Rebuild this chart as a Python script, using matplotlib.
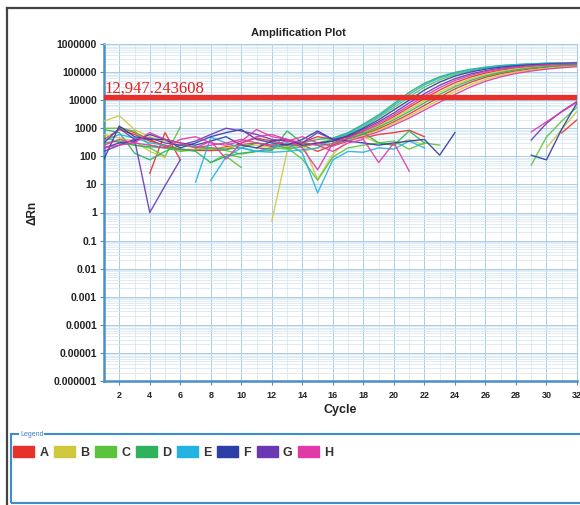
import matplotlib
matplotlib.use("Agg")
import matplotlib.pyplot as plt
from matplotlib.patches import Patch, Rectangle
from matplotlib.lines import Line2D
from matplotlib.ticker import FixedLocator, FixedFormatter, LogLocator, MultipleLocator
import numpy as np

n = np.nan

cycles = list(range(1, 33))
threshold = 12947.243608
threshold_label = "12,947.243608"

well_names = ["A", "B", "C", "D", "E", "F", "G", "H"]
well_colors = ["#e5322a", "#cfc83c", "#5cc43c", "#2eb35c", "#24b2e2", "#2b3fa6", "#6b37b3", "#e03aa8"]

y_tick_values = [1e-6, 1e-5, 1e-4, 1e-3, 1e-2, 1e-1, 1, 10, 100, 1000, 10000, 100000, 1000000]
y_tick_labels = ["0.000001", "0.00001", "0.0001", "0.001", "0.01", "0.1", "1", "10",
                 "100", "1000", "10000", "100000", "1000000"]
x_tick_values = list(range(2, 33, 2))

# ΔRn per cycle (1..32) for each well, nan = not plotted (negative / below zero)
a1 = [400, 900, 600, 350, 250, 180, 160, 170, 220, 260, 300, 220, 260, 230, 280,
      350, 500, 750, 1300, 2600, 5500, 11500, 23000, 42000, 66000, 92000, 117000, 139000, 157000, 172000, 183000, 192000]
a2 = [n, n, n, 25, 700, 75, n, n, n, n, 200, 180, 300, 250, 150,
      250, 400, 600, 950, 1700, 3200, 6500, 13000, 25000, 43000, 65000, 88000, 110000, 130000, 148000, 162000, 173000]
a3 = [n, 1100, 700, 400, 220, 170, 165, 160, 170, 300, 450, 350, 260, 320, 500,
      400, 500, 450, 600, 700, 850, 500, n, n, n, n, n, n, n, n, 680, 2000]

b1 = [1800, 2800, 900, 500, 350, 250, 200, 180, 200, 250, 250, 200, 230, 150, 200,
      300, 450, 700, 1200, 2300, 4600, 9500, 19000, 35000, 57000, 82000, 107000, 130000, 149000, 165000, 177000, 187000]
b2 = [n, n, n, n, n, n, n, n, n, n, n, 0.5, 150, 300, 15,
      120, 380, 550, 850, 1500, 2700, 5300, 10500, 20000, 35000, 55000, 77000, 99000, 119000, 137000, 152000, 164000]
b3 = [600, 450, 350, 150, 90, n, n, n, n, n, n, n, n, n, n,
      n, n, 500, 300, 250, 400, 250, n, n, n, n, n, n, n, 200, 900, 4000]

c1 = [1000, 1000, 800, 250, 200, 150, 170, 200, 160, 120, 150, 200, 180, 220, 300,
      400, 600, 1100, 2400, 5500, 13000, 29000, 53000, 82000, 110000, 137000, 158000, 175000, 188000, 198000, 205000, 210000]
c2 = [500, 300, 250, 200, 100, 1100, n, n, 100, 40, n, n, 200, 80, 14,
      95, 200, 250, 300, 350, 180, 300, 250, n, n, n, n, n, n, n, n, n]
c3 = [n, n, n, n, n, n, n, 60, 120, 90, n, n, n, n, n,
      n, n, n, n, n, n, n, n, n, n, n, n, n, 49, 490, 1800, 5700]

d1 = [900, 700, 130, 75, 150, 250, 220, 200, 180, 200, 300, 250, 200, 300, 400,
      450, 700, 1400, 3000, 7500, 19000, 40000, 68000, 98000, 125000, 150000, 170000, 185000, 197000, 206000, 213000, 218000]
d2 = [300, 350, 250, 220, 200, 180, 150, 60, 100, 130, 150, 160, 800, 300, 250,
      280, 420, 650, 1100, 2000, 3900, 8000, 16000, 30000, 50000, 73000, 97000, 120000, 140000, 157000, 170000, 181000]
d3 = [n, n, n, n, n, n, n, n, n, n, n, n, n, n, n,
      n, 600, 700, 300, 250, 800, 300, n, n, n, n, n, n, n, n, n, n]

e1 = [350, 600, 450, 300, 250, n, 12, 480, 300, 200, 150, 140, 150, 170, 200,
      420, 650, 1250, 2700, 6500, 16000, 35000, 62000, 92000, 120000, 146000, 167000, 183000, 196000, 206000, 214000, 220000]
e2 = [n, n, n, n, n, n, n, 14, 95, 200, 150, 200, 300, 130, 5,
      75, 150, 140, 200, 180, 350, 200, n, n, n, n, n, n, n, n, n, n]

f1 = [80, 1200, 500, 400, 400, 200, 300, 500, 700, 900, 400, 300, 250, 400, 800,
      400, 350, 300, 250, 300, 350, 400, 110, 700, n, n, n, n, 110, 75, 930, 8000]
f2 = [200, 300, 350, 600, 400, 300, 250, 350, 500, 250, 200, 350, 400, 250, 300,
      350, 550, 1000, 2000, 4500, 10000, 23000, 44000, 72000, 100000, 127000, 150000, 168000, 182000, 193000, 201000, 207000]

g1 = [300, 1000, 400, 1, 9, 75, n, n, n, n, n, n, n, n, n,
      n, n, n, n, n, n, n, n, n, n, n, n, n, 380, 1500, 4000, 9000]
g2 = [150, 250, 400, 450, 300, 250, 350, 600, 1000, 800, 600, 400, 350, 300, 700,
      400, 500, 900, 1700, 3500, 8000, 17000, 34000, 58000, 85000, 112000, 136000, 156000, 172000, 185000, 195000, 202000]

h1 = [250, 400, 300, 250, 200, 400, 500, 300, 250, 350, 900, 500, 400, 200, 33,
      300, 450, 800, 1500, 3000, 6500, 14000, 28000, 50000, 76000, 103000, 128000, 149000, 166000, 180000, 190000, 198000]
h2 = [n, n, n, n, n, n, 200, 350, 80, 300, 500, 600, 400, 300, 250,
      150, 300, 400, 60, 300, 30, n, n, n, n, n, n, n, 740, 1700, 3800, 8500]
h3 = [200, 250, 300, 700, 400, 300, 200, 250, 300, 400, 300, 250, 350, 500, 300,
      230, 350, 500, 750, 1300, 2300, 4400, 8500, 16000, 29000, 47000, 68000, 89000, 109000, 127000, 142000, 155000]

wells = {
    "A": [a1, a2, a3], "B": [b1, b2, b3], "C": [c1, c2, c3], "D": [d1, d2, d3],
    "E": [e1, e2], "F": [f1, f2], "G": [g1, g2], "H": [h1, h2, h3],
}

plt.rcParams["font.family"] = ["Liberation Sans", "DejaVu Sans"]

fig = plt.figure(figsize=(5.8, 5.05), dpi=100)
ax = fig.add_axes([104 / 580, 1 - 381 / 505, 473 / 580, 337 / 505])

for name, color in zip(well_names, well_colors):
    for series in wells[name]:
        ax.plot(cycles, series, color=color, lw=1.0, alpha=0.9, zorder=3)

ax.axhline(threshold, color="#e8302a", lw=3.8, zorder=4)
ax.text(1.0, threshold * 1.06, threshold_label, color="#e02020", fontsize=12,
        family="Liberation Serif", va="bottom", ha="left", zorder=5)

ax.set_yscale("log")
ax.set_ylim(1e-6, 1e6)
ax.set_xlim(1, 32)
ax.yaxis.set_major_locator(FixedLocator(y_tick_values))
ax.yaxis.set_major_formatter(FixedFormatter(y_tick_labels))
ax.yaxis.set_minor_locator(LogLocator(base=10, subs=np.arange(2, 10), numticks=100))
ax.xaxis.set_major_locator(FixedLocator(x_tick_values))
ax.xaxis.set_minor_locator(MultipleLocator(1))

ax.grid(True, which="major", color="#a9cde6", lw=0.7)
ax.grid(True, which="minor", color="#d2e5f3", lw=0.5)
ax.set_axisbelow(True)

for side in ["left", "bottom"]:
    ax.spines[side].set_color("#4a8fc6")
    ax.spines[side].set_linewidth(1.8)
for side in ["top", "right"]:
    ax.spines[side].set_color("#a9cde6")
    ax.spines[side].set_linewidth(0.8)

ax.tick_params(axis="y", which="major", length=3, color="#4a8fc6", pad=2,
               labelsize=7.5, labelcolor="#222222")
ax.tick_params(axis="x", which="major", length=3, color="#4a8fc6", pad=4,
               labelsize=6.5, labelcolor="#222222")
ax.tick_params(which="minor", length=0)
for lbl in ax.get_yticklabels() + ax.get_xticklabels():
    lbl.set_fontweight("bold")

ax.set_xlabel("Cycle", fontsize=9, fontweight="bold", color="#222222", labelpad=3)
ax.set_ylabel("ΔRn", fontsize=8.5, fontweight="bold", color="#222222", labelpad=11)
fig.text(0.515, 1 - 33 / 505, "Amplification Plot", ha="center", va="center",
         fontsize=8, fontweight="bold", color="#222222")

# outer frame (top and left only visible)
fig.add_artist(Line2D([7 / 580, 7 / 580], [0, 1 - 8 / 505], color="#444444", lw=1.6))
fig.add_artist(Line2D([7 / 580, 1], [1 - 8 / 505, 1 - 8 / 505], color="#444444", lw=1.6))

# legend panel
fig.add_artist(Rectangle((11 / 580, 1 - 503 / 505), 575 / 580, 69 / 505,
                         transform=fig.transFigure, fill=False, edgecolor="#3c8dc9", lw=1.5))
fig.text(20 / 580, 1 - 434 / 505, "Legend", fontsize=5, color="#3c7fc0", va="center",
         ha="left", bbox=dict(facecolor="white", edgecolor="none", pad=0.5))
handles = [Patch(facecolor=c, edgecolor=c) for c in well_colors]
leg = fig.legend(handles, well_names, loc="upper left", bbox_to_anchor=(13 / 580, 1 - 446 / 505),
                 ncol=8, frameon=False, fontsize=9, handlelength=1.7, handleheight=1.0,
                 handletextpad=0.4, columnspacing=0.45, borderpad=0, borderaxespad=0)
for t in leg.get_texts():
    t.set_fontweight("bold")
    t.set_color("#333333")

fig.savefig("out.png", dpi=100)
